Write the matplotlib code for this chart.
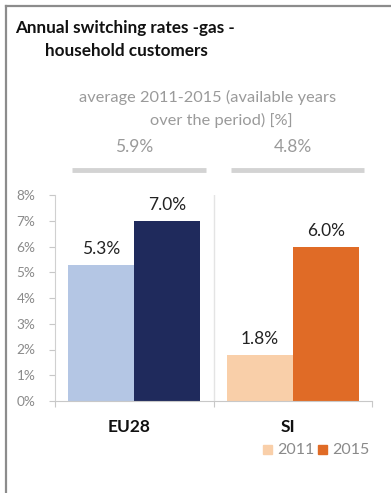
import numpy as np
import matplotlib.pyplot as plt
from matplotlib.lines import Line2D
from matplotlib.patches import Rectangle

plt.rcParams['font.family'] = ['Lato', 'DejaVu Sans']

# Data
countries = ["EU28", "SI"]
rates_2011 = [5.3, 1.8]
rates_2015 = [7.0, 6.0]
averages = ["5.9%", "4.8%"]
colors_2011 = ["#b4c6e4", "#f9cfa9"]
colors_2015 = ["#1f2a5c", "#e06b26"]
y_ticks = [0, 1, 2, 3, 4, 5, 6, 7, 8]

W, H = 391, 493
fig = plt.figure(figsize=(W / 100, H / 100), dpi=100)
fig.patch.set_facecolor("white")

def fx(px):
    return px / W

def fy(py):
    return 1 - py / H

# Frame: top and left edge only
fig.add_artist(Line2D([fx(6), 1], [fy(6), fy(6)], color="#8c8c8c", lw=1.6))
fig.add_artist(Line2D([fx(6), fx(6)], [fy(6), 0], color="#8c8c8c", lw=1.6))

# Title
fig.text(fx(15), fy(28), "Annual switching rates -gas -", fontsize=12.3,
         fontweight="bold", color="#111111", va="center", ha="left")
fig.text(fx(45), fy(51), "household customers", fontsize=12.3,
         fontweight="bold", color="#111111", va="center", ha="left")

# Average block
fig.text(fx(208), fy(97), "average 2011-2015 (available years", fontsize=11.8,
         color="#9a9a9a", va="center", ha="center")
fig.text(fx(221), fy(120), "over the period) [%]", fontsize=11.8,
         color="#9a9a9a", va="center", ha="center")

ax = fig.add_axes([fx(55), fy(401), fx(372) - fx(55), fy(195) - fy(401)])

x = np.arange(len(countries))
width = 0.416
ax.bar(x - width / 2, rates_2011, width, color=colors_2011, align="center")
ax.bar(x + width / 2, rates_2015, width, color=colors_2015, align="center")

for i in range(len(countries)):
    for xpos, val in [(x[i] - width / 2, rates_2011[i]), (x[i] + width / 2, rates_2015[i])]:
        ax.text(xpos, val + 0.3, f"{val:.1f}%", ha="center", va="bottom",
                fontsize=12.5, color="#222222")

ax.set_xlim(-0.5, 1.5)
ax.set_ylim(0, 8)
ax.set_yticks(y_ticks)
ax.set_yticklabels([f"{t}%" for t in y_ticks], color="#8a8a8a", fontsize=9.8)
ax.set_xticks([-0.5, 0.5, 1.5])
ax.set_xticklabels([])
ax.tick_params(axis="x", length=4, color="#c8c8c8", direction="out")
ax.tick_params(axis="y", length=4, color="#c8c8c8", pad=10)
ax.axvline(0.5, color="#e4e4e4", lw=1, zorder=0)
for s in ["top", "right"]:
    ax.spines[s].set_visible(False)
ax.spines["left"].set_color("#d0d0d0")
ax.spines["bottom"].set_color("#c8c8c8")

# Category labels below the axis
for i, c in enumerate(countries):
    ax.text(x[i] - 0.03, -0.125, c, transform=ax.get_xaxis_transform(),
            ha="center", va="center", fontsize=12.5, fontweight="bold", color="#111111")

# Average values and grey bars above each group
for i, a in enumerate(averages):
    cx = ax.transData.transform((x[i], 0))[0] / W
    fig.text(cx, fy(147), a, fontsize=12.5, color="#9a9a9a", ha="center", va="center")
    x0 = ax.transData.transform((x[i] - 0.39, 0))[0] / W
    x1 = ax.transData.transform((x[i] + 0.45, 0))[0] / W
    fig.add_artist(Line2D([x0, x1], [fy(170), fy(170)], color="#d3d3d3", lw=3.5,
                          solid_capstyle="butt"))

# Legend
fig.add_artist(Rectangle((fx(263), fy(454)), 9 / W, 9 / H, color=colors_2011[1]))
fig.text(fx(277), fy(450), "2011", fontsize=11.5, color="#8a8a8a", va="center")
fig.add_artist(Rectangle((fx(318), fy(454)), 9 / W, 9 / H, color=colors_2015[1]))
fig.text(fx(332), fy(450), "2015", fontsize=11.5, color="#8a8a8a", va="center")

fig.savefig("out.png", dpi=100, facecolor="white")
